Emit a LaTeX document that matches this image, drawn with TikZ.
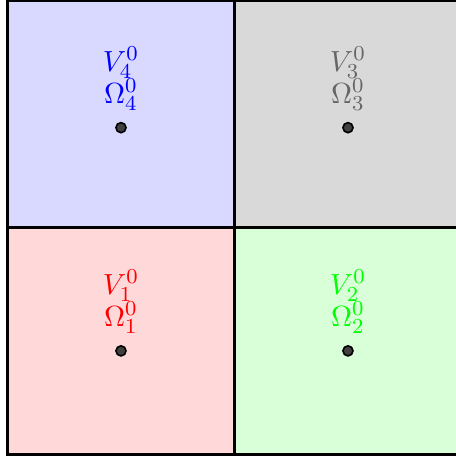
\documentclass[tikz,border=0pt]{standalone}
\usepackage{xcolor}
\usetikzlibrary{positioning}

\begin{document}
\begin{tikzpicture}[font=\fontsize{11}{13}\selectfont,
  cell/.style={draw=black, line width=1pt, minimum size=3cm, inner sep=0pt},
  pt/.style={circle, draw=black, fill=black!75, line width=0.6pt, minimum size=3.8pt, inner sep=0pt},
  lbl/.style={align=center, inner sep=2pt}]
  \useasboundingbox (-0.099,-0.03) rectangle (5.915,6.01);

  % the four subdomains
  \node[cell, fill=red!15]   (c1) at (1.5,1.5) {};
  \node[cell, fill=green!15] (c2) at (4.5,1.5) {};
  \node[cell, fill=gray!30]  (c3) at (4.5,4.5) {};
  \node[cell, fill=blue!15]  (c4) at (1.5,4.5) {};

  % centre points with their labels
  \node[pt, below=0.05cm of c1.center] (p1) {};
  \node[pt, below=0.05cm of c2.center] (p2) {};
  \node[pt, below=0.1cm of c3.center] (p3) {};
  \node[pt, below=0.1cm of c4.center] (p4) {};

  \node[lbl, above=2pt of p1, text=red]      (l1) {$V_1^0$\\[-1pt]$\Omega_1^0$};
  \node[lbl, above=2pt of p2, text=green]    (l2) {$V_2^0$\\[-1pt]$\Omega_2^0$};
  \node[lbl, above=2pt of p3, text=black!60] (l3) {$V_3^0$\\[-1pt]$\Omega_3^0$};
  \node[lbl, above=2pt of p4, text=blue]     (l4) {$V_4^0$\\[-1pt]$\Omega_4^0$};
\end{tikzpicture}
\end{document}
